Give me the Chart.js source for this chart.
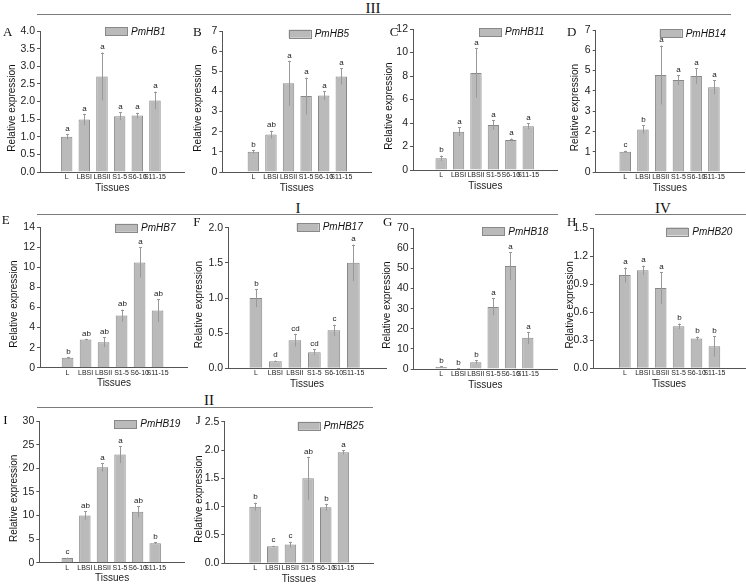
<!DOCTYPE html>
<html>
<head>
<meta charset="utf-8">
<script src="https://cdn.jsdelivr.net/npm/chart.js@4.4.1/dist/chart.umd.min.js"></script>
<style>
  body { margin: 0; background: #fff; }
  #fig { position: relative; width: 746px; height: 585px; overflow: hidden; }
  #fig canvas { position: absolute; }
  .rule { position: absolute; height: 0; border-top: 1.5px solid #7c7c7c; }
  .group { position: absolute; font: 15px "Liberation Serif", "Times New Roman", serif; color: #111;
           transform: translate(-50%, -50%); line-height: 1; white-space: nowrap; }
</style>
</head>
<body>
<div id="fig">
  <div class="rule" style="left:37px; top:14px; width:694px"></div>
  <div class="group" style="left:373px; top:8px">III</div>
  <div class="rule" style="left:37px; top:214px; width:521px"></div>
  <div class="group" style="left:298px; top:208px">I</div>
  <div class="rule" style="left:595px; top:214px; width:151px"></div>
  <div class="group" style="left:663px; top:208px">IV</div>
  <div class="rule" style="left:37px; top:407px; width:336px"></div>
  <div class="group" style="left:209px; top:400px">II</div>
</div>
<script>
// tissues on the x axis of every panel
const tissues = ['L', 'LBSI', 'LBSII', 'S1-5', 'S6-10', 'S11-15'];

// panel order A..J
const panelLetters = ['A', 'B', 'C', 'D', 'E', 'F', 'G', 'H', 'I', 'J'];
const geneNames = ['PmHB1', 'PmHB5', 'PmHB11', 'PmHB14', 'PmHB7', 'PmHB17', 'PmHB18', 'PmHB20', 'PmHB19', 'PmHB25'];

// relative expression (mean), error and significance letters
const pmhb1 = [1.0, 1.49, 2.71, 1.58, 1.6, 2.03];
const pmhb1Err = [0.08, 0.16, 0.68, 0.11, 0.08, 0.25];
const pmhb1Sig = ['a', 'a', 'a', 'a', 'a', 'a'];

const pmhb5 = [1.0, 1.86, 4.4, 3.77, 3.8, 4.74];
const pmhb5Err = [0.1, 0.19, 1.12, 0.92, 0.22, 0.4];
const pmhb5Sig = ['b', 'ab', 'a', 'a', 'a', 'a'];

const pmhb11 = [1.0, 3.26, 8.26, 3.82, 2.56, 3.73];
const pmhb11Err = [0.23, 0.38, 2.1, 0.42, 0.12, 0.26];
const pmhb11Sig = ['b', 'a', 'a', 'a', 'a', 'a'];

const pmhb14 = [1.0, 2.1, 4.78, 4.53, 4.73, 4.18];
const pmhb14Err = [0.05, 0.2, 1.45, 0.25, 0.38, 0.35];
const pmhb14Sig = ['c', 'b', 'a', 'a', 'a', 'a'];

const pmhb7 = [1.0, 2.8, 2.55, 5.2, 10.5, 5.7];
const pmhb7Err = [0.08, 0.08, 0.5, 0.6, 1.5, 1.15];
const pmhb7Sig = ['b', 'ab', 'ab', 'ab', 'a', 'ab'];

const pmhb17 = [1.0, 0.1, 0.4, 0.23, 0.54, 1.5];
const pmhb17Err = [0.13, 0.01, 0.09, 0.04, 0.08, 0.26];
const pmhb17Sig = ['b', 'd', 'cd', 'cd', 'c', 'a'];

const pmhb18 = [1.0, 0.25, 3.4, 30.9, 51.2, 15.5];
const pmhb18Err = [0.3, 0.1, 0.9, 4.2, 7.0, 3.0];
const pmhb18Sig = ['b', 'b', 'b', 'a', 'a', 'a'];

const pmhb20 = [1.0, 1.05, 0.86, 0.45, 0.32, 0.235];
const pmhb20Err = [0.08, 0.05, 0.17, 0.03, 0.02, 0.11];
const pmhb20Sig = ['a', 'a', 'a', 'b', 'b', 'b'];

const pmhb19 = [1.0, 10.0, 20.2, 22.9, 10.8, 4.1];
const pmhb19Err = [0.1, 0.9, 0.9, 1.8, 1.2, 0.2];
const pmhb19Sig = ['c', 'ab', 'a', 'a', 'ab', 'b'];

const pmhb25 = [1.0, 0.3, 0.33, 1.5, 0.99, 1.96];
const pmhb25Err = [0.07, 0.01, 0.05, 0.38, 0.06, 0.04];
const pmhb25Sig = ['b', 'c', 'c', 'ab', 'b', 'a'];

const means = [pmhb1, pmhb5, pmhb11, pmhb14, pmhb7, pmhb17, pmhb18, pmhb20, pmhb19, pmhb25];
const errs = [pmhb1Err, pmhb5Err, pmhb11Err, pmhb14Err, pmhb7Err, pmhb17Err, pmhb18Err, pmhb20Err, pmhb19Err, pmhb25Err];
const sigs = [pmhb1Sig, pmhb5Sig, pmhb11Sig, pmhb14Sig, pmhb7Sig, pmhb17Sig, pmhb18Sig, pmhb20Sig, pmhb19Sig, pmhb25Sig];

// y axis ranges / ticks
const yMax = [4, 7, 12, 7, 14, 2, 70, 1.5, 30, 2.5];
const yStep = [0.5, 1, 2, 1, 2, 0.5, 10, 0.3, 5, 0.5];
const yDecimals = [1, 0, 0, 0, 0, 1, 0, 1, 0, 1];

// where each panel sits on the page (px)
const layout = [
  { axis: 40,    right: 184.7, top: 31,    bottom: 172,   xMin: 0.175, letter: [3, 32.5],     legend: [105, 31.3],   titleX: 12.5 },
  { axis: 222.3, right: 371.3, top: 31,    bottom: 172,   xMin: -0.06, letter: [193, 32.5],   legend: [288.7, 33.7], titleX: 198.7 },
  { axis: 413,   right: 557.7, top: 29,    bottom: 170,   xMin: 0.077, letter: [389.7, 32.5], legend: [479, 32],     titleX: 388.8 },
  { axis: 595.7, right: 744,   top: 30,    bottom: 172,   xMin: 0.033, letter: [567, 32.5],   legend: [659.7, 33.3], titleX: 575 },
  { axis: 40,    right: 187.9, top: 227.3, bottom: 367.7, xMin: 0.153, letter: [1.7, 221],    legend: [115, 227.8],  titleX: 14.2 },
  { axis: 228,   right: 386,   top: 227.7, bottom: 368.3, xMin: 0.244, letter: [193.3, 222.5], legend: [296.7, 227], titleX: 199.5 },
  { axis: 413.7, right: 557.1, top: 228.3, bottom: 369,   xMin: 0.106, letter: [383, 222.5],  legend: [482.3, 231.3], titleX: 387.5 },
  { axis: 593,   right: 745,   top: 228.3, bottom: 368.3, xMin: -0.07, letter: [567, 222.5],  legend: [666.3, 231.5], titleX: 570.2 },
  { axis: 39.3,  right: 184.9, top: 421,   bottom: 562.7, xMin: 0.1,   letter: [3.3, 421],    legend: [114.3, 424],  titleX: 14.5 },
  { axis: 224.3, right: 373.5, top: 421.7, bottom: 563.3, xMin: -0.04, letter: [195.7, 421],  legend: [297.7, 425.8], titleX: 199.5 }
];

const SANS = '"Liberation Sans", Arial, sans-serif';
const SERIF = '"Liberation Serif", "Times New Roman", serif';
const BAR_FILL = '#bababa';
const BAR_EDGE = '#888888';
const X_AXIS_H = 24;

// error bars, significance letters, legend, panel letter, y title
const decor = {
  id: 'decor',
  afterDatasetsDraw(chart, args, opts) {
    const k = opts.panel;
    const p = layout[k];
    const off = chart.$offset;
    const { ctx, chartArea } = chart;
    const x = chart.scales.x, y = chart.scales.y;
    ctx.save();

    means[k].forEach(function (m, i) {
      const px = Math.round(x.getPixelForValue(i + 1)) + 0.5;
      const hi = y.getPixelForValue(m + errs[k][i]);
      const lo = y.getPixelForValue(Math.max(m - errs[k][i], 0));
      ctx.strokeStyle = '#999';
      ctx.lineWidth = 1;
      ctx.beginPath();
      ctx.moveTo(px, lo);
      ctx.lineTo(px, hi);
      ctx.moveTo(px - 1.5, Math.round(hi) + 0.5);
      ctx.lineTo(px + 1.5, Math.round(hi) + 0.5);
      ctx.stroke();

      ctx.fillStyle = '#222';
      ctx.font = '8px ' + SANS;
      ctx.textAlign = 'center';
      ctx.textBaseline = 'bottom';
      ctx.fillText(sigs[k][i], px, hi - 1.5);
    });

    // legend swatch + italic gene name
    const lx = p.legend[0] - off.left, ly = p.legend[1] - off.top;
    ctx.fillStyle = BAR_FILL;
    ctx.fillRect(lx, ly - 4, 22, 8);
    ctx.strokeStyle = BAR_EDGE;
    ctx.strokeRect(Math.round(lx) + 0.5, Math.round(ly - 4) + 0.5, 22, 8);
    ctx.fillStyle = '#111';
    ctx.font = 'italic 10px ' + SANS;
    ctx.textAlign = 'left';
    ctx.textBaseline = 'middle';
    ctx.fillText(geneNames[k], lx + 26, ly + 0.5);

    // panel letter
    ctx.font = '13px ' + SERIF;
    ctx.fillText(panelLetters[k], p.letter[0] - off.left, p.letter[1] - off.top);

    // y axis title
    ctx.translate(p.titleX - off.left, (chartArea.top + chartArea.bottom) / 2 + 6.5);
    ctx.rotate(-Math.PI / 2);
    ctx.font = '10px ' + SANS;
    ctx.textAlign = 'center';
    ctx.fillText('Relative expression', 0, 0);
    ctx.restore();
  }
};

function makePanel(k) {
  const p = layout[k];
  const left = Math.floor(p.axis) - 40;
  const top = Math.floor(p.top) - 12;
  const w = Math.ceil(p.right - left + 4);
  const h = Math.ceil(p.bottom - top + X_AXIS_H);
  const yWidth = p.axis - left;

  const cv = document.createElement('canvas');
  cv.width = w;
  cv.height = h;
  cv.style.left = left + 'px';
  cv.style.top = top + 'px';
  cv.style.width = w + 'px';
  cv.style.height = h + 'px';
  document.getElementById('fig').appendChild(cv);

  return new Chart(cv, {
    type: 'bar',
    data: {
      datasets: [{
        label: geneNames[k],
        data: means[k].map((v, i) => ({ x: i + 1, y: v })),
        backgroundColor: BAR_FILL,
        borderColor: BAR_EDGE,
        borderWidth: 1,
        categoryPercentage: 1,
        barPercentage: 0.65
      }]
    },
    options: {
      responsive: false,
      animation: false,
      devicePixelRatio: 1,
      layout: {
        padding: {
          left: 0,
          top: p.top - top,
          right: w - (p.right - left),
          bottom: h - (p.bottom - top) - X_AXIS_H
        }
      },
      plugins: {
        legend: { display: false },
        tooltip: { enabled: false },
        decor: { panel: k }
      },
      scales: {
        x: {
          type: 'linear',
          min: p.xMin,
          max: 7,
          bounds: 'data',
          afterBuildTicks: function (s) { s.ticks = tissues.map((_, i) => ({ value: i + 1 })); },
          afterFit: function (s) { s.height = X_AXIS_H; },
          grid: { display: false, drawTicks: false, tickLength: 0 },
          border: { color: '#555', width: 1 },
          ticks: {
            autoSkip: false,
            maxRotation: 0,
            padding: 1,
            color: '#222',
            font: { family: SANS, size: 7 },
            callback: v => tissues[Math.round(v) - 1]
          },
          title: {
            display: true,
            text: 'Tissues',
            color: '#222',
            font: { family: SANS, size: 10 },
            padding: { top: 0, bottom: 2 }
          }
        },
        y: {
          min: 0,
          max: yMax[k],
          afterFit: function (s) { s.width = yWidth; },
          grid: { drawOnChartArea: false, tickLength: 3, color: '#555' },
          border: { color: '#555', width: 1 },
          ticks: {
            stepSize: yStep[k],
            padding: 2,
            color: '#222',
            font: { family: SANS, size: 10.5 },
            callback: v => Number(v).toFixed(yDecimals[k])
          }
        }
      }
    },
    plugins: [{ id: 'offset', beforeInit(c) { c.$offset = { left: left, top: top }; } }, decor]
  });
}

panelLetters.forEach((_, k) => makePanel(k));
</script>
</body>
</html>
